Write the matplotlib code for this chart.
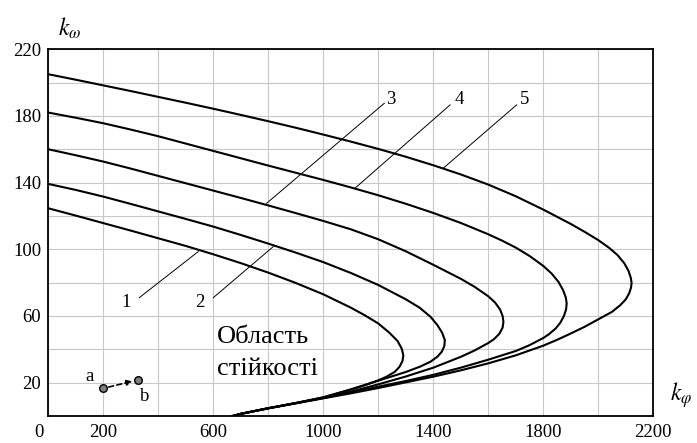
import matplotlib
matplotlib.use("Agg")
import matplotlib.pyplot as plt
import matplotlib.transforms as mtransforms

plt.rcParams['font.family'] = ['Liberation Serif', 'DejaVu Serif']
plt.rcParams['mathtext.fontset'] = 'stix'

# curves: k_phi (x) and k_omega (y) along each curve,
# from the left edge round the bend and down to the bottom axis
kphi_1 = [0, 100, 200, 300, 400, 500, 600, 700, 800, 900, 1000, 1100, 1150, 1200, 1240, 1270, 1285, 1291,
          1288, 1277, 1260, 1230, 1200, 1150, 1100, 1000, 900, 800, 700, 670]
kom_1 = [124.6, 120.2, 115.7, 111.2, 106.6, 102, 97, 91.7, 86, 79.8, 73, 65, 60.5, 55.5, 50, 45, 40.5, 36.5,
         33, 29.5, 26.5, 23.6, 21.4, 18.4, 15.8, 11.2, 7.8, 4.7, 1.3, 0]

kphi_2 = [0, 100, 200, 300, 400, 500, 600, 700, 800, 900, 1000, 1100, 1200, 1300, 1350, 1390, 1415, 1432, 1442,
          1440, 1431, 1415, 1390, 1350, 1300, 1200, 1100, 1000, 900, 800, 700, 670]
kom_2 = [139.2, 135.6, 131.6, 127.2, 122.7, 118.2, 113.6, 108.6, 103.4, 98, 92.3, 85.8, 78.6, 70, 65, 59.5, 54.5, 50, 45.5,
         42, 38.6, 35.6, 32.6, 29.5, 26.4, 21.2, 16, 11.2, 7.8, 4.7, 1.3, 0]

kphi_3 = [0, 100, 200, 300, 400, 500, 600, 700, 800, 900, 1000, 1100, 1200, 1300, 1400, 1500, 1550, 1600, 1625, 1643,
          1652, 1655, 1652, 1640, 1620, 1600, 1550, 1500, 1400, 1300, 1200, 1100, 1000, 900, 800, 700, 670]
kom_3 = [160, 156.4, 152.6, 148.4, 144, 139.6, 135.2, 130.8, 126.3, 121.7, 117, 112, 106, 98.8, 90.7, 82.3, 77.5, 71.8, 68, 63.8,
         60, 56.5, 53, 49.3, 46, 43.8, 39.3, 35.5, 29, 23.7, 19, 14.6, 10.9, 7.7, 4.7, 1.3, 0]

kphi_4 = [0, 100, 200, 300, 400, 500, 600, 700, 800, 900, 1000, 1100, 1200, 1300, 1400, 1500, 1600, 1650, 1700, 1750,
          1800, 1830, 1855, 1872, 1882, 1885, 1883, 1875, 1862, 1845, 1820, 1800, 1750, 1700, 1600, 1500, 1400, 1300,
          1200, 1100, 1000, 900, 800, 700, 670]
kom_4 = [182, 178.9, 175.6, 171.8, 167.8, 163.4, 159, 154.6, 150.2, 145.9, 141.6, 137.1, 132.4, 127.3, 121.8, 115.8, 109, 105.2, 101, 96,
         90, 85.5, 80.5, 75.5, 71, 67.5, 64, 60, 56, 52.5, 49, 46.8, 42.5, 39, 33.8, 29, 24.7, 21,
         17.6, 14.1, 10.8, 7.7, 4.6, 1.3, 0]

kphi_5 = [0, 100, 200, 300, 400, 500, 600, 700, 800, 900, 1000, 1100, 1200, 1300, 1400, 1500, 1600, 1700, 1800, 1900,
          1950, 2000, 2040, 2070, 2095, 2110, 2118, 2121, 2119, 2112, 2100, 2080, 2050, 2000, 1950, 1900, 1850, 1800,
          1700, 1600, 1500, 1400, 1300, 1200, 1100, 1000, 900, 800, 700, 670]
kom_5 = [205, 201.7, 198.3, 194.9, 191.4, 187.9, 184.3, 180.6, 176.8, 172.9, 168.8, 164.6, 160.2, 155.5, 150.4, 144.9, 138.8, 131.8, 123.8, 115.2,
         110.5, 105.5, 100.8, 96.5, 91.5, 87, 83, 80, 77, 73.5, 70, 66.5, 62.5, 58, 53.5, 49.5, 45.7, 42.2,
         36.4, 31.6, 27.4, 23.6, 20.2, 16.8, 13.6, 10.6, 7.6, 4.6, 1.3, 0]

curves = [(kphi_1, kom_1), (kphi_2, kom_2), (kphi_3, kom_3), (kphi_4, kom_4), (kphi_5, kom_5)]

# curve numbers: label position and where the leader touches the curve
label_names = ["1", "2", "3", "4", "5"]
label_xy = [(283, 68), (552, 68), (1245, 190), (1495, 190), (1733, 190)]
leader_start = [(331, 71), (600, 71), (1222, 187.6), (1461, 186.6), (1703, 186.6)]
leader_end = [(545, 98.6), (818, 101.6), (794, 127.6), (1115, 136.6), (1436, 148.6)]

# points a and b
pt_names = ["a", "b"]
pt_x = [200, 325]
pt_y = [16.6, 21.6]

xticks = [0, 200, 600, 1000, 1400, 1800, 2200]
yticks = [20, 60, 100, 140, 180, 220]

fig = plt.figure(figsize=(6.97, 4.43), dpi=100)
ax = fig.add_axes([0.0693, 0.0609, 0.868, 0.828])

for x, y in curves:
    ax.plot(x, y, color='black', lw=1.5, solid_joinstyle='round')

for name, (tx, ty), s, e in zip(label_names, label_xy, leader_start, leader_end):
    ax.text(tx, ty, name, fontsize=13.5, ha='center', va='center')
    ax.plot([s[0], e[0]], [s[1], e[1]], color='black', lw=0.7)

ax.annotate('', xy=(pt_x[1], pt_y[1]), xytext=(pt_x[0], pt_y[0]),
            arrowprops=dict(arrowstyle='-|>', linestyle=(0, (3, 2)), color='black',
                            lw=1.2, shrinkA=4, shrinkB=4, mutation_scale=8))
ax.scatter(pt_x, pt_y, s=30, color='#808080', edgecolor='black', linewidth=1, zorder=5)
ax.text(pt_x[0] - 50, pt_y[0] + 7, pt_names[0], fontsize=13.5, ha='center', va='center')
ax.text(pt_x[1] + 27, pt_y[1] - 10, pt_names[1], fontsize=13.5, ha='center', va='center')

ax.text(612, 43.8, "Область", fontsize=19, ha='left', va='baseline')
ax.text(612, 24.6, "стійкості", fontsize=19, ha='left', va='baseline')

ax.set_xlim(0, 2200)
ax.set_ylim(0, 220)
ax.set_xticks(range(0, 2201, 200), minor=True)
ax.set_yticks(range(0, 221, 20), minor=True)
ax.set_xticks(xticks)
ax.set_yticks(yticks)
ax.set_xticklabels([str(v) for v in xticks], fontsize=13.5)
ax.set_yticklabels([str(v) for v in yticks], fontsize=13.5)
ax.tick_params(which='both', length=0)
ax.tick_params(axis='x', pad=6)
ax.tick_params(axis='y', pad=5)
ax.grid(which='both', color='#c8c8c8', lw=0.8)
ax.set_axisbelow(True)
for sp in ax.spines.values():
    sp.set_linewidth(1.3)

# the "0" label sits a bit left of the axis origin
lbl0 = ax.get_xticklabels()[0]
lbl0.set_transform(lbl0.get_transform() + mtransforms.ScaledTranslation(-0.09, 0, fig.dpi_scale_trans))

fig.text(0.1, 0.935, r"$k_{\omega}$", fontsize=17, ha='center', va='center')
fig.text(0.977, 0.108, r"$k_{\varphi}$", fontsize=17, ha='center', va='center')

fig.savefig("out.png", dpi=100)
